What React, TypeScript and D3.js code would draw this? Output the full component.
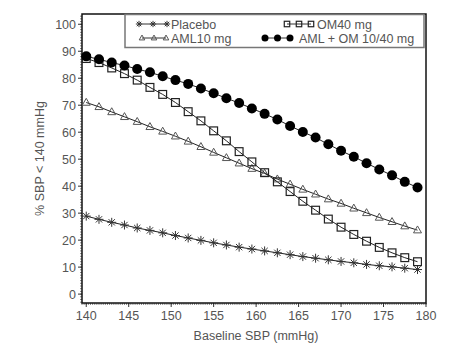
import React from "react";
import * as d3 from "d3";

const xValues = d3.range(27).map((i) => 140 + 1.5 * i);
const placebo = [28.9, 27.7, 26.6, 25.6, 24.5, 23.6, 22.7, 21.7, 20.8, 19.9, 19.0, 18.2, 17.4, 16.7, 16.0, 15.3, 14.6, 13.9, 13.3, 12.7, 12.1, 11.6, 11.0, 10.5, 10.1, 9.6, 9.1];
const aml10 = [71.0, 69.4, 67.5, 65.7, 63.9, 62.0, 60.3, 58.5, 56.6, 54.6, 52.5, 50.5, 48.5, 46.5, 44.7, 42.6, 40.7, 38.8, 37.0, 35.2, 33.6, 31.8, 30.1, 28.4, 26.8, 25.2, 23.7];
const om40 = [87.3, 85.8, 83.8, 81.7, 79.3, 76.6, 74.0, 71.0, 67.6, 64.2, 60.5, 56.8, 52.8, 49.0, 45.0, 41.6, 38.0, 34.4, 31.1, 27.8, 24.8, 22.1, 19.6, 17.3, 15.3, 13.5, 12.0];
const amlOm = [88.1, 87.0, 85.8, 84.7, 83.4, 82.2, 80.7, 79.3, 77.9, 76.2, 74.4, 72.6, 70.8, 68.8, 66.8, 64.7, 62.3, 60.1, 58.0, 55.5, 53.1, 50.9, 48.5, 46.2, 44.0, 41.6, 39.5];
const seriesNames = ["Placebo", "AML10 mg", "OM40 mg", "AML + OM 10/40 mg"];
const xTicks = [140, 145, 150, 155, 160, 165, 170, 175, 180];
const yTicks = [0, 10, 20, 30, 40, 50, 60, 70, 80, 90, 100];

const FONT = "Liberation Sans, Arial, sans-serif";
const TXT = "#555";

type Kind = "star" | "tri" | "sq" | "dot";

function Marker({ kind, x, y, s = 1 }: { kind: Kind; x: number; y: number; s?: number }) {
  if (kind === "star") {
    const r = 4.5 * s;
    const d = r * 0.7;
    return (
      <g stroke="#333" strokeWidth={1}>
        <line x1={x - r} y1={y} x2={x + r} y2={y} />
        <line x1={x} y1={y - r} x2={x} y2={y + r} />
        <line x1={x - d} y1={y - d} x2={x + d} y2={y + d} />
        <line x1={x - d} y1={y + d} x2={x + d} y2={y - d} />
      </g>
    );
  }
  if (kind === "tri") {
    const r = 4.2 * s;
    return (
      <path
        d={`M${x},${y - r}L${x + r * 0.95},${y + r * 0.65}L${x - r * 0.95},${y + r * 0.65}Z`}
        fill="white"
        fillOpacity={0}
        stroke="#555"
        strokeWidth={1}
      />
    );
  }
  if (kind === "sq") {
    const h = 3.9 * s;
    return <rect x={x - h} y={y - h} width={2 * h} height={2 * h} fill="none" stroke="#222" strokeWidth={1.2} />;
  }
  return <circle cx={x} cy={y} r={5 * s} fill="#000" />;
}

export default function App() {
  const W = 465;
  const H = 355;
  const left = 82, right = 426, top = 14, bottom = 303;
  const x = d3.scaleLinear().domain([139.5, 180]).range([left, right]);
  const y = d3.scaleLinear().domain([-3.3, 103.8]).range([bottom, top]);
  const line = d3
    .line<number>()
    .x((_, i) => x(xValues[i]))
    .y((d) => y(d));

  const series: { data: number[]; kind: Kind }[] = [
    { data: placebo, kind: "star" },
    { data: aml10, kind: "tri" },
    { data: om40, kind: "sq" },
    { data: amlOm, kind: "dot" },
  ];

  const xMinor = d3.range(139.5, 180.01, 0.25);
  const yMinor = d3.range(-3, 104, 1);

  const legendItems: { name: string; kind: Kind; x0: number; x1: number; tx: number; ty: number }[] = [
    { name: seriesNames[0], kind: "star", x0: 139, x1: 167, tx: 171, ty: 24 },
    { name: seriesNames[1], kind: "tri", x0: 142, x1: 166, tx: 171, ty: 38 },
    { name: seriesNames[2], kind: "sq", x0: 287, x1: 311, tx: 317, ty: 24 },
    { name: seriesNames[3], kind: "dot", x0: 265, x1: 290, tx: 299, ty: 38 },
  ];

  return (
    <svg width={W} height={H} style={{ position: "absolute", left: 0, top: 0, background: "#fff" }}>
      <rect x={0} y={0} width={W} height={H} fill="#fff" />
      {/* minor ticks */}
      {xMinor.map((v, i) => (
        <line key={"xm" + i} x1={x(v)} x2={x(v)} y1={bottom} y2={bottom + 2} stroke="#666" strokeWidth={0.8} />
      ))}
      {yMinor.map((v, i) => (
        <line key={"ym" + i} x1={left - 2} x2={left} y1={y(v)} y2={y(v)} stroke="#666" strokeWidth={0.8} />
      ))}
      {/* major ticks */}
      {xTicks.map((v) => (
        <g key={"xt" + v}>
          <line x1={x(v)} x2={x(v)} y1={bottom} y2={bottom + 4} stroke="#333" />
          <text x={x(v)} y={320} textAnchor="middle" fontFamily={FONT} fontSize={12.5} fill={TXT}>
            {v}
          </text>
        </g>
      ))}
      {yTicks.map((v) => (
        <g key={"yt" + v}>
          <line x1={left - 4} x2={left} y1={y(v)} y2={y(v)} stroke="#333" />
          <text x={76} y={y(v) + 4.5} textAnchor="end" fontFamily={FONT} fontSize={12.5} fill={TXT}>
            {v}
          </text>
        </g>
      ))}
      {/* frame */}
      <rect x={left} y={top} width={right - left} height={bottom - top} fill="none" stroke="#111" strokeWidth={1.5} />
      {/* series */}
      {series.map((s, si) => (
        <g key={"s" + si}>
          <path d={line(s.data) || ""} fill="none" stroke="#222" strokeWidth={1} />
          {s.data.map((v, i) => (
            <Marker key={i} kind={s.kind} x={x(xValues[i])} y={y(v)} />
          ))}
        </g>
      ))}
      {/* legend */}
      <rect x={125} y={14.5} width={299} height={33} fill="#fff" stroke="#777" strokeWidth={1.5} />
      {legendItems.map((it) => {
        const xs = [it.x0, (it.x0 + it.x1) / 2, it.x1];
        return (
          <g key={it.name}>
            <line x1={it.x0} x2={it.x1} y1={it.ty} y2={it.ty} stroke="#333" strokeWidth={1} />
            {xs.map((mx, i) => (
              <Marker key={i} kind={it.kind} x={mx} y={it.ty} s={0.7} />
            ))}
            <text x={it.tx} y={it.ty + 4.5} fontFamily={FONT} fontSize={12.5} fill={TXT}>
              {it.name}
            </text>
          </g>
        );
      })}
      {/* axis titles */}
      <text x={256} y={340} textAnchor="middle" fontFamily={FONT} fontSize={12.5} fill={TXT}>
        Baseline SBP (mmHg)
      </text>
      <text
        transform={`translate(44,${(top + bottom) / 2}) rotate(-90)`}
        textAnchor="middle"
        fontFamily={FONT}
        fontSize={12.5}
        fill={TXT}
      >
        % SBP &lt; 140 mmHg
      </text>
    </svg>
  );
}
